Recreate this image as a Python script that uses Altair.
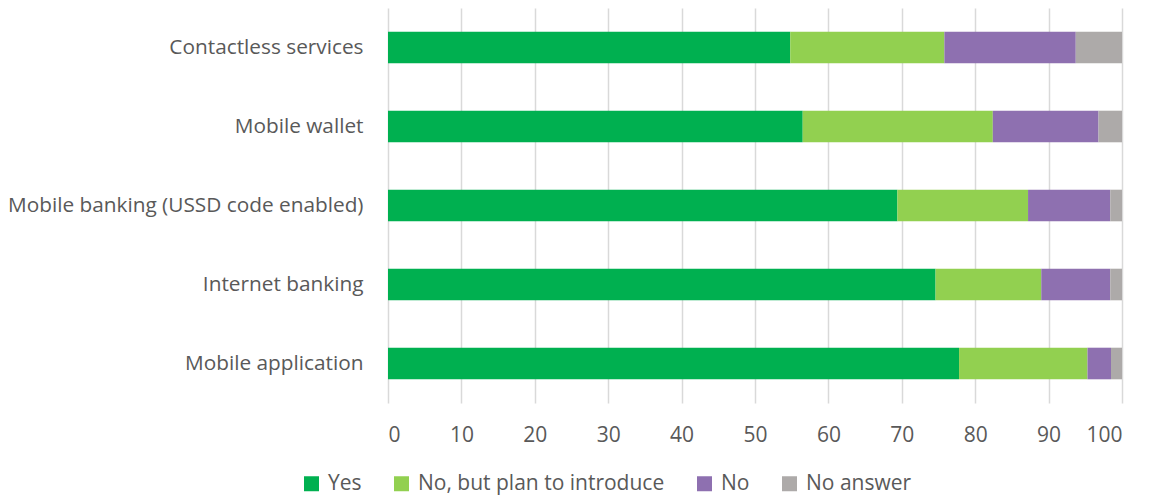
import altair as alt
import pandas as pd

categories = ["Contactless services", "Mobile wallet", "Mobile banking (USSD code enabled)",
              "Internet banking", "Mobile application"]
series = ["Yes", "No, but plan to introduce", "No", "No answer"]
yes_vals = [54.8, 56.5, 69.4, 74.6, 77.8]
plan_vals = [21.0, 25.9, 17.8, 14.4, 17.5]
no_vals = [17.9, 14.4, 11.2, 9.4, 3.2]
na_vals = [6.3, 3.2, 1.6, 1.6, 1.5]
colors = ["#00B050", "#92D050", "#8E70B0", "#ADAAA9"]
x_ticks = [0, 10, 20, 30, 40, 50, 60, 70, 80, 90, 100]

rows = []
for s_i, (s, vals) in enumerate(zip(series, [yes_vals, plan_vals, no_vals, na_vals])):
    for c, v in zip(categories, vals):
        rows.append({"category": c, "series": s, "value": v, "order": s_i})
df = pd.DataFrame(rows)

FONT = "Open Sans"
FS = 21

chart = alt.Chart(df).mark_bar().encode(
    y=alt.Y("category:N", sort=categories, title=None,
            scale=alt.Scale(paddingInner=0.6, paddingOuter=0.3),
            axis=alt.Axis(ticks=False, domain=False, labelFontSize=20.8, labelColor="#595959",
                          labelFont=FONT, labelPadding=25, labelLimit=500)),
    x=alt.X("value:Q", stack="zero", title=None,
            scale=alt.Scale(domain=[0, 100], nice=False),
            axis=alt.Axis(values=x_ticks, ticks=False, domain=False, grid=True,
                          gridColor="#D9D9D9", gridWidth=1.5,
                          labelFontSize=FS, labelColor="#595959", labelFont=FONT,
                          labelPadding=21)),
    color=alt.Color("series:N", sort=series,
                    scale=alt.Scale(domain=series, range=colors),
                    legend=alt.Legend(title=None, orient="none", direction="horizontal",
                                      legendX=-87, legendY=465, symbolType="square",
                                      symbolSize=225, symbolStrokeWidth=0,
                                      labelFontSize=FS, labelColor="#595959", labelFont=FONT,
                                      labelLimit=500, columnPadding=29, labelOffset=6)),
    order=alt.Order("order:Q", sort="ascending"),
).properties(
    width=734, height=395,
    autosize=alt.AutoSizeParams(type="none"),
    padding={"left": 380, "top": 0, "right": 19, "bottom": 92},
).configure(font=FONT).configure_view(strokeWidth=0)

chart.save("out.html", embed_options={"renderer": "svg", "actions": False})
